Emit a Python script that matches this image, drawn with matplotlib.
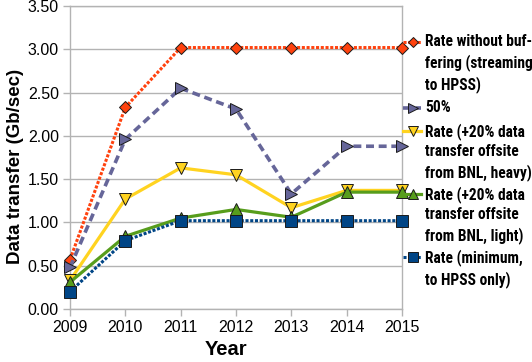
import matplotlib
matplotlib.use("Agg")
import matplotlib.pyplot as plt
from matplotlib.lines import Line2D
from matplotlib import font_manager as fm

years = [2009, 2010, 2011, 2012, 2013, 2014, 2015]
rate_no_buffer = [0.57, 2.33, 3.02, 3.02, 3.02, 3.02, 3.02]
rate_50 = [0.48, 1.96, 2.55, 2.31, 1.33, 1.88, 1.88]
rate_heavy = [0.33, 1.27, 1.63, 1.55, 1.17, 1.37, 1.37]
rate_light = [0.31, 0.84, 1.05, 1.15, 1.06, 1.35, 1.35]
rate_min = [0.20, 0.79, 1.02, 1.02, 1.02, 1.02, 1.02]

labels = ["Rate without buf-\nfering (streaming\nto HPSS)",
          "50%",
          "Rate (+20% data\ntransfer offsite\nfrom BNL, heavy)",
          "Rate (+20% data\ntransfer offsite\nfrom BNL, light)",
          "Rate (minimum,\nto HPSS only)"]
yticks = [0.0, 0.5, 1.0, 1.5, 2.0, 2.5, 3.0, 3.5]

fonts = fm.fontManager.ttflist
available = {f.name for f in fonts}
bold_available = {f.name for f in fonts if (f.weight if isinstance(f.weight, int) else 400) >= 700
                  or str(f.weight) == "bold"}
def pick(cands, need_bold=False):
    pool = bold_available if need_bold else available
    for c in cands:
        if c in pool:
            return c
    return "DejaVu Sans"
main_font = pick(["Liberation Sans", "Arimo", "Arial"])
narrow_font = pick(["Liberation Sans Narrow", "Arial Narrow", "Roboto Condensed",
                    "Archivo Narrow", "Asap Condensed", "Barlow Semi Condensed"], need_bold=True)

W, H = 532, 362
fig = plt.figure(figsize=(W / 100, H / 100), dpi=100)
ax = fig.add_axes([70 / W, 1 - 309 / H, (402 - 70) / W, (309 - 6) / H])

styles = [
    dict(color="#ff420e", ls=(0, (1, 0.55)), lw=2.2, marker="D", ms=6.5, mfc="#ff420e"),
    dict(color="#666699", ls=(0, (2.2, 1.3)), lw=2.6, marker=">", ms=9, mfc="#666699"),
    dict(color="#ffd320", ls="-", lw=2.3, marker="v", ms=8.5, mfc="#ffd320"),
    dict(color="#579d1c", ls="-", lw=2.3, marker="^", ms=8.5, mfc="#579d1c"),
    dict(color="#004586", ls=(0, (1, 0.55)), lw=2.2, marker="s", ms=8.5, mfc="#004586"),
]
series = [rate_no_buffer, rate_50, rate_heavy, rate_light, rate_min]

for vals, st in zip(series, styles):
    ax.plot(years, vals, color=st["color"], ls=st["ls"], lw=st["lw"],
            marker=st["marker"], ms=st["ms"], mfc=st["mfc"], mec="#1a1a1a",
            mew=0.7, clip_on=False, zorder=3)

ax.set_xlim(2009, 2015)
ax.set_ylim(0, 3.5)
ax.set_xticks(years)
ax.set_yticks(yticks)
ax.set_yticklabels([f"{v:.2f}" for v in yticks])
ax.grid(axis="y", color="#b3b3b3", lw=1)
ax.set_axisbelow(True)
for s in ax.spines.values():
    s.set_color("#b3b3b3")
    s.set_linewidth(1)
ax.tick_params(axis="both", color="#b3b3b3", length=5, width=1,
               labelsize=11.5, labelcolor="black", pad=3)
for lab in ax.get_xticklabels() + ax.get_yticklabels():
    lab.set_family(main_font)
ax.set_xlabel("Year", fontsize=14.5, fontweight="bold", family=main_font)
ax.xaxis.set_label_coords((226 - 70) / 332, -(340 - 309) / 303)
ax.set_ylabel("Data transfer (Gb/sec)", fontsize=13.5, fontweight="bold", family=main_font)
ax.yaxis.set_label_coords(-(70 - 24) / 332, (309 - 166) / 303)

# manual legend
ys = [42, 108, 131, 194, 257]
for st, lab, yp in zip(styles, labels, ys):
    yf = 1 - yp / H
    fig.add_artist(Line2D([403 / W, 421 / W], [yf, yf], color=st["color"], ls=st["ls"],
                          lw=st["lw"]))
    fig.add_artist(Line2D([413 / W], [yf], marker=st["marker"], ms=st["ms"] * 0.85,
                          mfc=st["mfc"], mec="#1a1a1a", mew=0.7, ls="none"))
    fig.text(425 / W, 1 - (yp - 8) / H, lab, ha="left", va="top", fontsize=11.2,
             fontweight="bold", family=narrow_font, linespacing=1.37)

fig.savefig("out.png", dpi=100)
